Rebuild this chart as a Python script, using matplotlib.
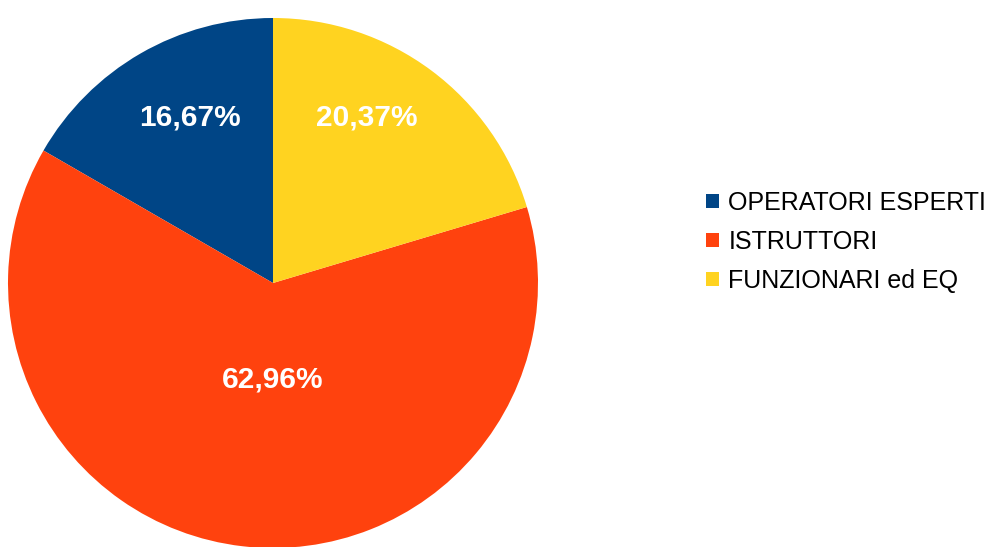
import matplotlib.pyplot as plt
from matplotlib.patches import Patch

# Values
categories = ['OPERATORI ESPERTI', 'ISTRUTTORI', 'FUNZIONARI ed EQ']
shares = [16.67, 62.96, 20.37]
colors = ['#004586', '#ff420e', '#ffd320']

# label positions inside the pie (unit radius)
label_pos = [(-0.313, 0.623), (0.0, -0.366), (0.355, 0.623)]

plt.rcParams['font.family'] = ['Liberation Sans', 'DejaVu Sans']

fig = plt.figure(figsize=(9.94, 5.47), dpi=100)
ax = fig.add_axes([8 / 994, (264 - 265) / 547, 530 / 994, 530 / 547])

wedges, texts, autotexts = ax.pie(
    shares, colors=colors, startangle=90, counterclock=True,
    autopct=lambda p: f'{p:.2f}%'.replace('.', ','),
    textprops={'color': 'white', 'fontsize': 21.5, 'fontweight': 'bold'},
    wedgeprops={'linewidth': 0},
)
for t, pos in zip(autotexts, label_pos):
    t.set_position(pos)
    t.set_ha('center')
    t.set_va('center')

ax.set_xlim(-1, 1)
ax.set_ylim(-1, 1)
ax.set_aspect('auto')
ax.axis('off')

# Legend on the right
handles = [Patch(facecolor=c, edgecolor='none') for c in colors]
fig.legend(handles, categories, loc='center left',
           bbox_to_anchor=(706 / 994, 1 - 242 / 547),
           frameon=False, fontsize=18, handlelength=0.5, handleheight=0.5,
           handletextpad=0.4, labelspacing=0.6, borderpad=0, borderaxespad=0)

fig.savefig('out.png', dpi=100)
